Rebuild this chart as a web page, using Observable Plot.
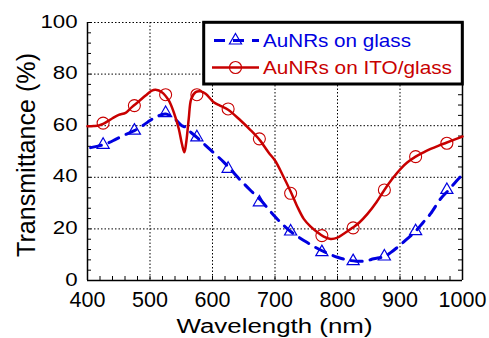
<!DOCTYPE html>
<html><head><meta charset="utf-8">
<script src="https://cdn.jsdelivr.net/npm/d3@7"></script>
<script src="https://cdn.jsdelivr.net/npm/@observablehq/plot@0.6"></script>
<style>
html,body{margin:0;padding:0;background:#fff;}
#chart{width:489px;height:338px;}
svg{display:block;}
</style></head><body><div id="chart"></div>
<script>
const seriesNames = ["AuNRs on glass", "AuNRs on ITO/glass"];
const xLabel = "Wavelength (nm)";
const yLabel = "Transmittance (%)";
const xTicks = [400, 500, 600, 700, 800, 900, 1000];
const yTicks = [0, 20, 40, 60, 80, 100];

const glassWl = [405, 415, 425, 435, 445, 460, 475, 490, 500, 509, 525, 540, 551, 557, 565, 575, 586, 602, 618, 630, 645, 661, 677, 690, 701, 712, 725, 738, 751, 765, 780, 800, 815, 830, 845, 858, 875, 885, 896, 910, 925, 937, 949, 965, 978, 990, 998];
const glassT = [51.5, 52, 52.6, 53.5, 54.7, 56.5, 58.1, 60.3, 62, 63.3, 64.5, 62.5, 60, 59.4, 57.5, 55.5, 53, 49.5, 45.9, 42.8, 38.8, 34.9, 31.2, 27.5, 24.5, 21.8, 19, 16.8, 14.8, 12.8, 11, 9, 8, 7.5, 7.6, 8.4, 9.3, 10.8, 12.9, 15.8, 19.1, 22.5, 25.9, 31.7, 35.1, 38.5, 40.5];

const itoWl = [400, 410, 418, 425, 440, 450, 461, 471, 482, 493, 503, 509, 519, 530, 538, 546, 551, 555, 558, 562, 566, 573, 581, 589, 602, 612, 625, 645, 660, 675, 690, 700, 712, 725, 735, 746, 757, 768, 778, 789, 800, 810, 825, 835, 848, 862, 875, 888, 901, 912, 925, 937, 949, 962, 974, 987, 1000];
const itoT = [59.8, 59.9, 60.1, 60.7, 62.9, 64.2, 65, 67.2, 69.4, 71.7, 73.6, 73.9, 73, 69.8, 65.2, 58.8, 53, 49.7, 53.6, 62.7, 70.4, 73, 73.3, 72.4, 69.1, 67.8, 66.2, 62, 58.5, 54.6, 49.5, 46.5, 41, 34.5, 29, 23.9, 20.9, 18.7, 17, 16.1, 16.6, 18.1, 20.6, 22.5, 25.8, 30.2, 35.1, 39.5, 43.3, 45.8, 48, 49.6, 51, 52.3, 53.4, 54.6, 55.8];

const markerWl = [425, 475, 525, 575, 625, 675, 725, 775, 825, 875, 925, 975];
const glassMarkerT = [52.6, 58.1, 64.9, 55.5, 43.3, 30.3, 19, 11, 7.5, 9.3, 19.1, 35.1];
const itoMarkerT = [61, 67.8, 72, 72, 66.5, 54.9, 33.8, 17.4, 20.4, 35.1, 48, 53.2];

const BLUE = "#0000e0", RED = "#c80000";
const FONT = "'Liberation Sans', Arial, sans-serif";

const glass = glassWl.map((x, i) => ({x, y: glassT[i]}));
const ito = itoWl.map((x, i) => ({x, y: itoT[i]}));
const glassM = markerWl.map((x, i) => ({x, y: glassMarkerT[i]}));
const itoM = markerWl.map((x, i) => ({x, y: itoMarkerT[i]}));

const W = 489, H = 338, mL = 87, mR = 27, mT = 22, mB = 58;
const innerW = W - mL - mR, innerH = H - mT - mB;
const grid = {stroke: "#000", strokeWidth: 1, strokeDasharray: "1.5,2"};

const plot = Plot.plot({
  width: W, height: H, marginLeft: mL, marginRight: mR, marginTop: mT, marginBottom: mB,
  style: {fontFamily: FONT, background: "white", color: "black", overflow: "visible"},
  x: {domain: [400, 1000]},
  y: {domain: [0, 100]},
  marks: [
    Plot.ruleX(xTicks.slice(1, -1), grid),
    Plot.ruleY(yTicks.slice(1), grid),
    Plot.tickY(d3.range(0, 101, 4), {y: d => d, insetRight: innerW - 4, stroke: "#000"}),
    Plot.tickY(d3.range(0, 101, 4), {y: d => d, insetLeft: innerW - 4, stroke: "#000"}),
    Plot.tickX(d3.range(400, 1001, 20), {x: d => d, insetTop: innerH - 4, stroke: "#000"}),
    Plot.ruleX([400, 1000], {stroke: "#000", strokeWidth: 1.5}),
    Plot.ruleY([0], {stroke: "#000", strokeWidth: 1.5}),
    Plot.dot(glassM, {x: "x", y: "y", symbol: "triangle", r: 4.5, stroke: BLUE, fill: "none", strokeWidth: 1.2}),
    Plot.dot(itoM, {x: "x", y: "y", symbol: "circle", r: 6, stroke: RED, fill: "none", strokeWidth: 1.1}),
    Plot.line(glass, {x: "x", y: "y", stroke: BLUE, strokeWidth: 3, strokeDasharray: "11,8", curve: "catmull-rom"}),
    Plot.line(ito, {x: "x", y: "y", stroke: RED, strokeWidth: 2.5, curve: "catmull-rom"}),
    Plot.axisX({ticks: xTicks, tickSize: 0, tickPadding: 11, fontSize: 21.5, label: null, tickFormat: d => String(d)}),
    Plot.axisY({ticks: yTicks, tickSize: 0, tickPadding: 10, fontSize: 19, label: null, dy: -1, tickFormat: d => String(d)})
  ]
});

document.getElementById("chart").appendChild(plot);
const svg = d3.select(plot);

// stretch y tick labels like the reference
svg.selectAll('g[aria-label="y-axis tick label"] text').each(function() {
  const L = this.getComputedTextLength();
  this.setAttribute("textLength", L * 1.17);
  this.setAttribute("lengthAdjust", "spacingAndGlyphs");
});

// axis labels
svg.append("text").attr("x", mL + innerW / 2).attr("y", 333)
  .attr("text-anchor", "middle").attr("font-family", FONT).attr("font-size", 19.5)
  .attr("fill", "#000").attr("textLength", 196).attr("lengthAdjust", "spacingAndGlyphs")
  .text(xLabel);
svg.append("text").attr("transform", "translate(35,155) rotate(-90)")
  .attr("text-anchor", "middle").attr("font-family", FONT).attr("font-size", 25)
  .attr("fill", "#000").attr("textLength", 204).attr("lengthAdjust", "spacingAndGlyphs")
  .text(yLabel);

// legend
const lg = svg.append("g");
lg.append("rect").attr("x", 203.7).attr("y", 22.3).attr("width", 258.6).attr("height", 61.7)
  .attr("fill", "white").attr("stroke", "#000").attr("stroke-width", 3);
const rows = [
  {name: seriesNames[0], color: BLUE, y: 40.5, dash: "11,8", sw: 3, sym: d3.symbolTriangle, r: 4.5, tl: 148, base: 46.7},
  {name: seriesNames[1], color: RED, y: 67.5, dash: null, sw: 2.5, sym: d3.symbolCircle, r: 6, tl: 189, base: 74.3}
];
rows.forEach(r => {
  const ln = lg.append("line").attr("x1", 212).attr("x2", 259).attr("y1", r.y).attr("y2", r.y)
    .attr("stroke", r.color).attr("stroke-width", r.sw);
  if (r.dash) ln.attr("stroke-dasharray", r.dash).attr("stroke-dashoffset", -2);
  lg.append("path").attr("d", d3.symbol(r.sym, Math.PI * r.r * r.r)())
    .attr("transform", `translate(235.5,${r.y})`).attr("fill", "none")
    .attr("stroke", r.color).attr("stroke-width", 1.2);
  lg.append("text").attr("x", 263).attr("y", r.base).attr("font-family", FONT)
    .attr("text-anchor", "start")
    .attr("font-size", 18.5).attr("fill", r.color).attr("textLength", r.tl)
    .attr("lengthAdjust", "spacingAndGlyphs").text(r.name);
});
</script>
</body></html>
